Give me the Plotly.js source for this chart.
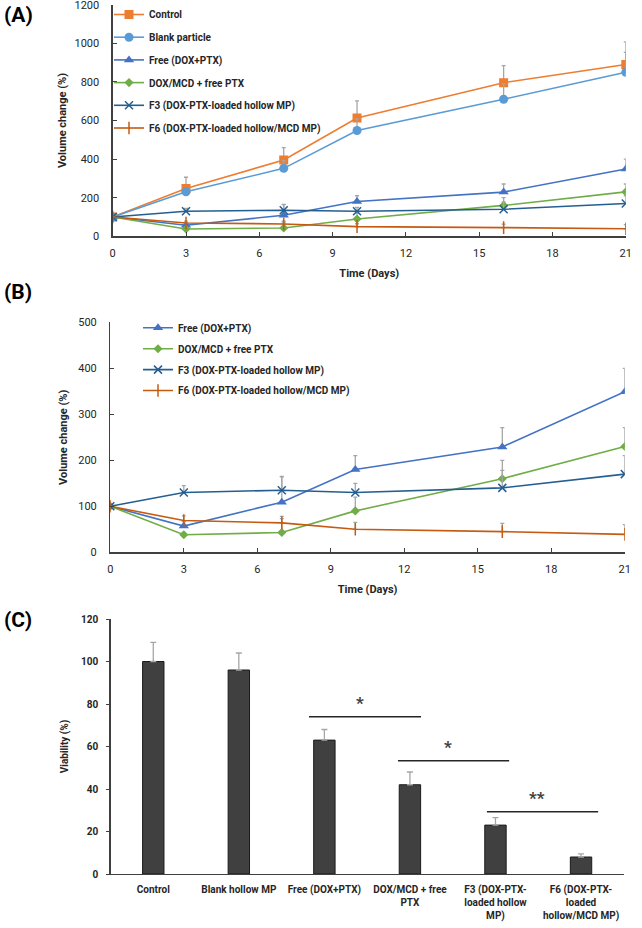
<!DOCTYPE html>
<html>
<head>
<meta charset="utf-8">
<script src="https://cdn.plot.ly/plotly-3.0.1.min.js"></script>
<style>html,body{margin:0;padding:0;background:#fff;}#chart{width:642px;height:928px;}</style>
</head>
<body>
<div id="chart"></div>
<script>
// ---------- data ----------
const days = [0, 3, 7, 10, 16, 21];
const xTicksDays = [0, 3, 6, 9, 12, 15, 18, 21];

const controlVals = [100, 248, 395, 613, 796, 890];
const controlErr  = [0, 58, 64, 89, 88, 117];
const blankVals   = [100, 231, 352, 548, 710, 850];
const blankErr    = [0, 15, 40, 60, 80, 103];
const freeVals    = [100, 57, 109, 180, 229, 349];
const freeErr     = [0, 10, 55, 30, 42, 51];
const doxVals     = [100, 38, 43, 90, 160, 230];
const doxErr      = [0, 5, 30, 30, 40, 41];
const f3Vals      = [100, 130, 135, 130, 140, 170];
const f3Err       = [0, 15, 30, 20, 38, 40];
const f6Vals      = [100, 69, 64, 50, 45, 39];
const f6Err       = [0, 10, 14, 15, 18, 21];

const seriesNames = ['Control', 'Blank particle', 'Free (DOX+PTX)', 'DOX/MCD + free PTX',
                     'F3 (DOX-PTX-loaded hollow MP)', 'F6 (DOX-PTX-loaded hollow/MCD MP)'];

const viabCats = ['Control', 'Blank hollow MP', 'Free (DOX+PTX)', 'DOX/MCD + free<br>PTX',
                  'F3 (DOX-PTX-<br>loaded hollow<br>MP)', 'F6 (DOX-PTX-<br>loaded<br>hollow/MCD MP)'];
const viabVals = [100, 96, 63, 42, 23, 8];
const viabErr  = [9, 8, 5, 6, 3.5, 1.5];

const sigStart = [1.82, 2.86, 3.9];
const sigEnd   = [3.13, 4.16, 5.2];
const sigLevel = [74, 53.3, 29.3];
const sigText  = ['*', '*', '**'];

// ---------- styles ----------
const FONT = 'Roboto, "Liberation Sans", Arial, sans-serif';
const styles = [
  {color: '#ED7D31', symbol: 'square', size: 9},
  {color: '#5B9BD5', symbol: 'circle', size: 9},
  {color: '#4472C4', symbol: 'triangle-up', size: 9},
  {color: '#70AD47', symbol: 'diamond', size: 7},
  {color: '#255E91', symbol: 'x-thin-open', size: 8},
  {color: '#C55A11', symbol: 'line-ns-open', size: 9}
];
const allVals = [controlVals, blankVals, freeVals, doxVals, f3Vals, f6Vals];
const allErr  = [controlErr, blankErr, freeErr, doxErr, f3Err, f6Err];

function lineTrace(i, xa, ya, legendName, grp) {
  const s = styles[i];
  const open = s.symbol.indexOf('open') >= 0;
  return {
    type: 'scatter', mode: 'lines+markers',
    x: days, y: allVals[i], name: seriesNames[i],
    xaxis: xa, yaxis: ya, legend: legendName, legendgroup: grp + i,
    line: {color: s.color, width: 1.6},
    marker: {symbol: s.symbol, size: s.size, color: s.color,
             line: {color: s.color, width: open ? 1.5 : 0}},
    error_y: {type: 'data', array: allErr[i], arrayminus: allErr[i].map(() => 0),
              symmetric: false, color: '#A6A6A6', thickness: 1.3, width: 2}
  };
}

const traces = [];
for (let i = 0; i < 6; i++) traces.push(lineTrace(i, 'x', 'y', 'legend', 'a'));
for (let i = 2; i < 6; i++) traces.push(lineTrace(i, 'x2', 'y2', 'legend2', 'b'));
traces.push({
  type: 'bar', x: viabCats, y: viabVals, xaxis: 'x3', yaxis: 'y3', showlegend: false,
  marker: {color: '#404040', line: {color: '#1a1a1a', width: 1}},
  error_y: {type: 'data', array: viabErr, arrayminus: viabErr.map(() => 0), symmetric: false,
            color: '#A6A6A6', thickness: 1.3, width: 3}
});

const axisCommon = {
  showgrid: false, zeroline: false, showline: true, linecolor: '#404040', linewidth: 1.3,
  tickcolor: '#404040', ticklabeloverflow: 'allow',
  tickfont: {family: FONT, size: 11, color: '#262626'}
};
const xDays = Object.assign({}, axisCommon, {
  range: [0, 21], tickvals: xTicksDays, ticks: 'inside', ticklen: 4,
  ticklabelstandoff: 6,
  title: {text: 'Time (Days)', font: {family: FONT, size: 11, weight: 'bold', color: '#262626'}, standoff: 10}
});
function yVol(max, dtick, standoff) {
  return Object.assign({}, axisCommon, {
    range: [0, max], tickvals: Array.from({length: max / dtick + 1}, (_, k) => k * dtick),
    ticks: 'inside', ticklen: 4, ticklabelstandoff: 10,
    title: {text: 'Volume change (%)', font: {family: FONT, size: 11, weight: 'bold', color: '#262626'}, standoff: standoff}
  });
}

const shapes = [];
const annotations = [];
for (let k = 0; k < sigStart.length; k++) {
  shapes.push({type: 'line', xref: 'x3', yref: 'y3', x0: sigStart[k], x1: sigEnd[k],
               y0: sigLevel[k], y1: sigLevel[k], line: {color: '#262626', width: 1.5}});
  annotations.push({xref: 'x3', yref: 'y3', x: (sigStart[k] + sigEnd[k]) / 2 - 0.06, y: sigLevel[k],
                    yanchor: 'bottom', yshift: 2, text: sigText[k], showarrow: false,
                    font: {family: FONT, size: 17, weight: 'bold', color: '#404040'}});
}
[['(A)', 15], ['(B)', 292], ['(C)', 620]].forEach(p => {
  annotations.push({xref: 'paper', yref: 'paper', x: 2 / 642, xanchor: 'left',
    y: 1 - p[1] / 928, yanchor: 'middle', text: p[0], showarrow: false,
    font: {family: FONT, size: 21, weight: 'bold', color: '#000'}});
});

const legendFont = {family: FONT, size: 10, weight: 'bold', color: '#262626'};

const layout = {
  width: 642, height: 928, margin: {l: 0, r: 0, t: 0, b: 0},
  paper_bgcolor: '#fff', plot_bgcolor: '#fff', showlegend: true,
  font: {family: FONT},
  xaxis: Object.assign({}, xDays, {domain: [112.7 / 642, 625.8 / 642], anchor: 'y'}),
  yaxis: Object.assign({}, yVol(1200, 200, 5), {domain: [1 - 236.3 / 928, 1 - 4.7 / 928], anchor: 'x'}),
  xaxis2: Object.assign({}, xDays, {domain: [110.3 / 642, 624.8 / 642], anchor: 'y2'}),
  yaxis2: Object.assign({}, yVol(500, 100, 8), {domain: [1 - 552.3 / 928, 1 - 322.3 / 928], anchor: 'x2'}),
  xaxis3: Object.assign({}, axisCommon, {domain: [110.5 / 642, 623.8 / 642], anchor: 'y3',
    ticks: '', ticklabelstandoff: 6,
    tickfont: {family: FONT, size: 10, weight: 'bold', color: '#262626'}}),
  yaxis3: Object.assign({}, axisCommon, {domain: [1 - 874 / 928, 1 - 619 / 928], anchor: 'x3',
    range: [0, 120], tickvals: [0, 20, 40, 60, 80, 100, 120], ticks: 'outside', ticklen: 3, ticklabelstandoff: 6,
    tickfont: {family: FONT, size: 10, weight: 'bold', color: '#262626'},
    title: {text: 'Viability (%)', font: {family: FONT, size: 10, weight: 'bold', color: '#262626'}, standoff: 10}}),
  bargap: 0.75,
  legend: {x: 109 / 642, xanchor: 'left', y: 1 + 0.5 / 928, yanchor: 'top', traceorder: 'grouped',
           tracegroupgap: 3.7, bgcolor: 'rgba(0,0,0,0)', borderwidth: 0, font: legendFont},
  legend2: {x: 138 / 642, xanchor: 'left', y: 1 - 313.3 / 928, yanchor: 'top', traceorder: 'grouped',
            tracegroupgap: 1.9, bgcolor: 'rgba(0,0,0,0)', borderwidth: 0, font: legendFont},
  shapes: shapes,
  annotations: annotations
};

Plotly.newPlot('chart', traces, layout, {displayModeBar: false, staticPlot: true});
</script>
</body>
</html>
